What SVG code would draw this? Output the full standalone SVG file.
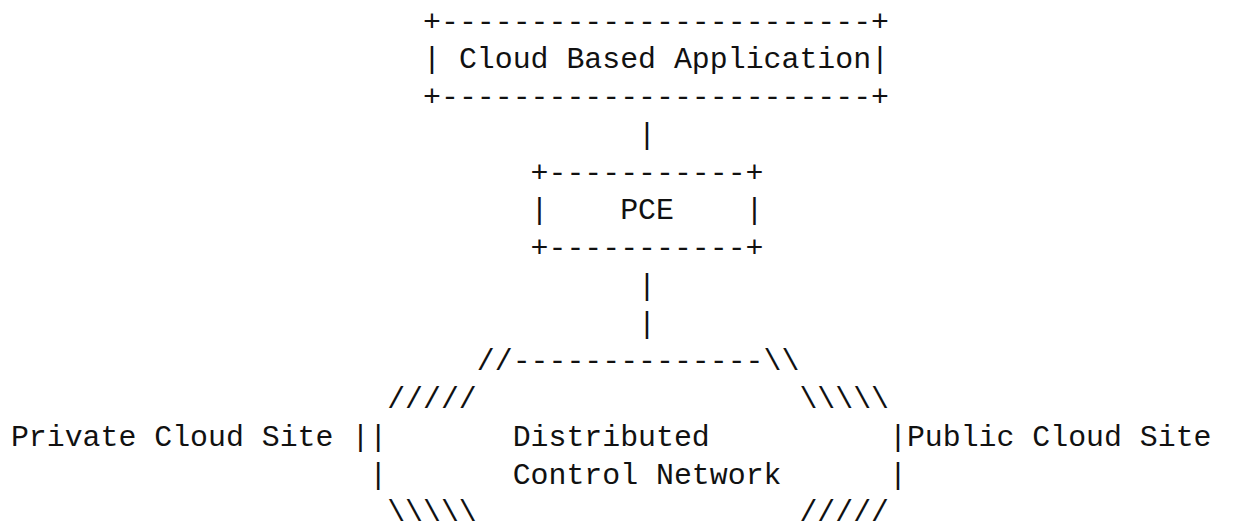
<svg xmlns="http://www.w3.org/2000/svg" width="1235" height="527" viewBox="0 0 1235 527">
  <style>
    /* monospaced character grid: 17.92px per column, 37.75px per row */
    .t { font-family: "Liberation Mono", "DejaVu Sans Mono", monospace; font-size: 29.86px; fill: #111; white-space: pre; }
  </style>
  <rect width="1235" height="527" fill="#fff"/>

  <!-- application box -->
  <g id="cloud-app">
    <text class="t" x="423.1" y="30.5">+------------------------+</text>
    <text class="t" x="423.1" y="68.25">| Cloud Based Application|</text>
    <text class="t" x="423.1" y="106">+------------------------+</text>
  </g>

  <!-- PCE box -->
  <g id="pce">
    <text class="t" x="530.6" y="181.5">+-----------+</text>
    <text class="t" x="530.6" y="219.25">|    PCE    |</text>
    <text class="t" x="530.6" y="257">+-----------+</text>
  </g>

  <!-- network outline -->
  <g id="network">
    <text class="t" x="476.8" y="370.25">//--------------\\</text>
    <text class="t" x="387.2" y="408">/////</text>
    <text class="t" x="799.4" y="408">\\\\\</text>
    <text class="t" x="351.4" y="445.75">||</text>
    <text class="t" x="512.7" y="445.75">Distributed</text>
    <text class="t" x="889" y="445.75">|</text>
    <text class="t" x="369.3" y="483.5">|</text>
    <text class="t" x="512.7" y="483.5">Control Network</text>
    <text class="t" x="889" y="483.5">|</text>
    <text class="t" x="387.2" y="521.25">\\\\\</text>
    <text class="t" x="799.4" y="521.25">/////</text>
  </g>

  <!-- site labels -->
  <g id="private-site">
    <text class="t" x="10.9" y="445.75">Private Cloud Site</text>
  </g>
  <g id="public-site">
    <text class="t" x="906.9" y="445.75">Public Cloud Site</text>
  </g>

  <!-- vertical links -->
  <g id="connectors">
    <text class="t" x="638.1" y="143.75">|</text>
    <text class="t" x="638.1" y="294.75">|</text>
    <text class="t" x="638.1" y="332.5">|</text>
  </g>
</svg>
